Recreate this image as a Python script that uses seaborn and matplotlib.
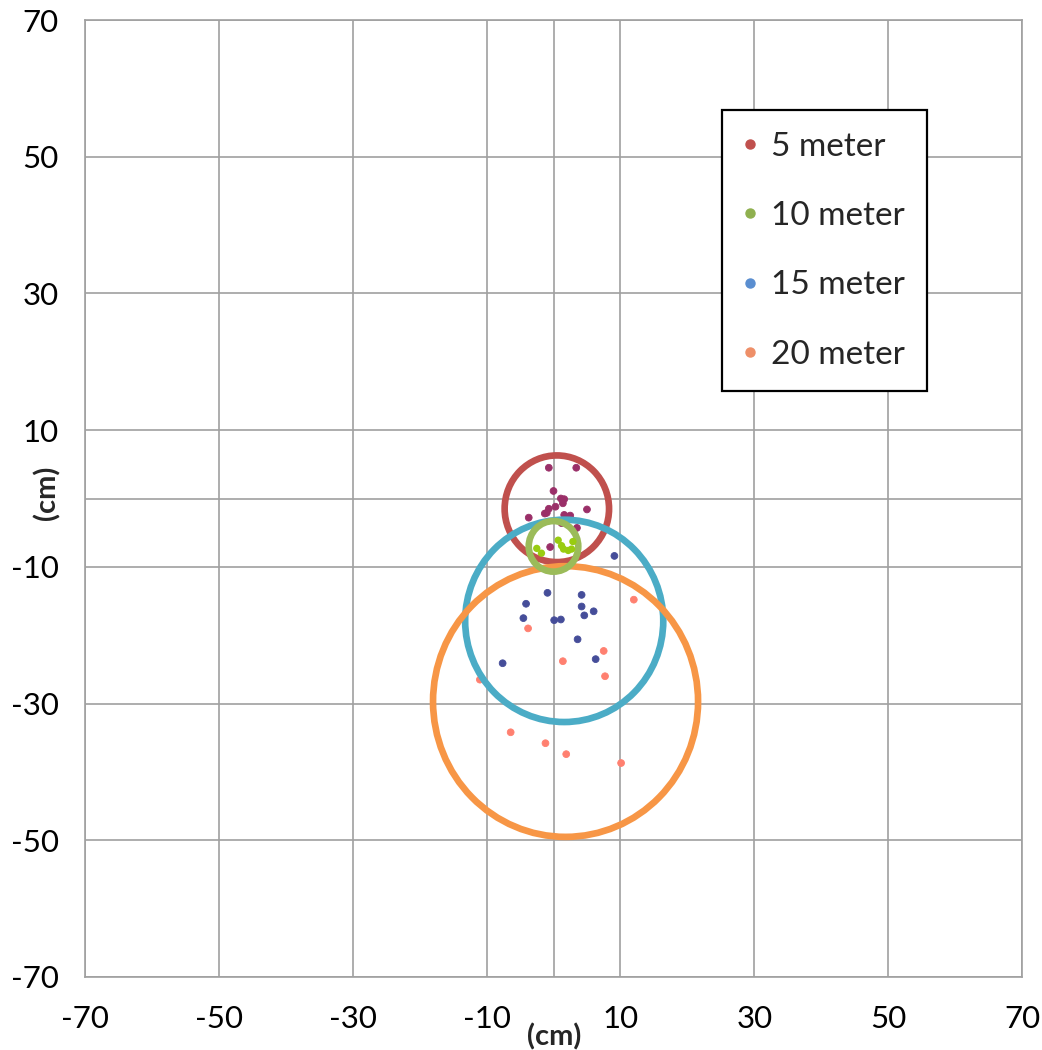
import numpy as np
import pandas as pd
import matplotlib
matplotlib.use("Agg")
import matplotlib.pyplot as plt
from matplotlib.patches import Ellipse
from matplotlib.lines import Line2D
import seaborn as sns

# ---------------- data ----------------
series_names = ["5 meter", "10 meter", "15 meter", "20 meter"]

x_5m = [-0.7, 3.4, 0.0, 1.1, 1.6, 1.4, 0.3, -0.7, -1.0, -1.3, 1.6, 2.5, 1.2, 5.0, -0.5, -3.7, 3.5]
y_5m = [4.5, 4.5, 1.1, 0.0, -0.1, -0.7, -1.2, -1.5, -2.1, -2.2, -2.4, -2.5, -3.6, -1.6, -7.1, -2.8, -4.3]

x_10m = [0.7, 1.2, 1.5, 2.2, 2.7, 2.9, -2.5, -1.8]
y_10m = [-6.1, -6.9, -7.4, -7.6, -7.4, -6.3, -7.3, -8.0]

x_15m = [9.1, -0.9, 4.2, -4.1, 4.2, 6.0, 4.6, -4.5, 0.1, 1.1, 3.6, 6.3, -7.6]
y_15m = [-8.4, -13.8, -14.1, -15.4, -15.8, -16.5, -17.1, -17.5, -17.8, -17.7, -20.6, -23.5, -24.1]

x_20m = [12.0, -3.8, 7.5, 1.4, 7.7, -11.0, -6.4, -1.2, 1.9, 10.1]
y_20m = [-14.8, -19.0, -22.3, -23.8, -26.0, -26.5, -34.2, -35.8, -37.4, -38.7]

# spread circles (center x, center y, radius) per series
circle_x = [0.5, 0.0, 1.6, 1.8]
circle_y = [-1.5, -7.0, -17.9, -29.7]
circle_r = [7.8, 3.7, 14.8, 19.8]

tick_values = [-70, -50, -30, -10, 10, 30, 50, 70]
axis_label = "(cm)"

# ---------------- styles ----------------
point_colors = ["#9A2F68", "#99CC11", "#454D99", "#FF8070"]
legend_colors = ["#C0504D", "#8FB04F", "#5A8ED0", "#EE8F68"]
circle_colors = ["#C0504D", "#9BBB59", "#4BACC6", "#F79646"]
circle_z = [3, 6, 4, 5]

sns.set_style("white")
plt.rcParams["font.family"] = ["Lato", "DejaVu Sans"]

fig = plt.figure(figsize=(10.42, 10.5), dpi=100)
ax = fig.add_axes([85 / 1042, 1 - 977 / 1050, 937 / 1042, 957 / 1050])

frames = []
for name, xs, ys in zip(series_names, [x_5m, x_10m, x_15m, x_20m], [y_5m, y_10m, y_15m, y_20m]):
    frames.append(pd.DataFrame({"x": xs, "y": ys, "series": name}))
df = pd.concat(frames, ignore_index=True)

palette = dict(zip(series_names, point_colors))
sns.scatterplot(data=df[df.series != "10 meter"], x="x", y="y", hue="series",
                palette=palette, s=24, linewidth=0.6, edgecolor="face",
                legend=False, ax=ax, zorder=2)
sns.scatterplot(data=df[df.series == "10 meter"], x="x", y="y", hue="series",
                palette=palette, s=28, linewidth=0, legend=False, ax=ax, zorder=7)

for cx, cy, r, c, z in zip(circle_x, circle_y, circle_r, circle_colors, circle_z):
    ax.add_patch(Ellipse((cx, cy), 2 * r, 2 * r, fill=False, edgecolor=c,
                         linewidth=4.8, zorder=z))

ax.set_xlim(-70, 70)
ax.set_ylim(-70, 70)
ax.set_xticks(tick_values)
ax.set_yticks(tick_values)
ax.set_xticklabels([str(v) for v in tick_values])
ax.set_yticklabels([str(v) for v in tick_values])
grid_color = "#A0A0A0"
ax.grid(True, color=grid_color, linewidth=1.2, zorder=0)
ax.set_axisbelow(True)
ax.axhline(0, color=grid_color, linewidth=1.2, zorder=1)
ax.axvline(0, color=grid_color, linewidth=1.2, zorder=1)
for sp in ax.spines.values():
    sp.set_color(grid_color)
    sp.set_linewidth(1.2)
ax.tick_params(axis="both", length=0, labelsize=22.5, colors="#000000")
ax.tick_params(axis="y", pad=19)
ax.tick_params(axis="x", pad=20)

ax.set_xlabel(axis_label, fontsize=21, fontweight="bold", va="center")
ax.set_ylabel(axis_label, fontsize=21, fontweight="bold", va="center")
ax.xaxis.set_label_coords(0.5005, -0.0625)
ax.yaxis.set_label_coords(-0.0406, 0.506)

handles = [Line2D([0], [0], marker="o", linestyle="none", markersize=6.5,
                  markerfacecolor=c, markeredgecolor=c) for c in legend_colors]
leg = ax.legend(handles, series_names, loc="upper left",
                bbox_to_anchor=(722 / 1042, 1 - 110 / 1050),
                bbox_transform=fig.transFigure, borderaxespad=0,
                fontsize=24, frameon=True, fancybox=False,
                handlelength=0.385, handletextpad=0.44, borderpad=0.65,
                labelspacing=1.18)
leg.get_frame().set_edgecolor("#000000")
leg.get_frame().set_linewidth(1.6)
leg.get_frame().set_facecolor("white")
leg.get_frame().set_alpha(1)
leg.set_zorder(20)

fig.savefig("out.png", dpi=100)
